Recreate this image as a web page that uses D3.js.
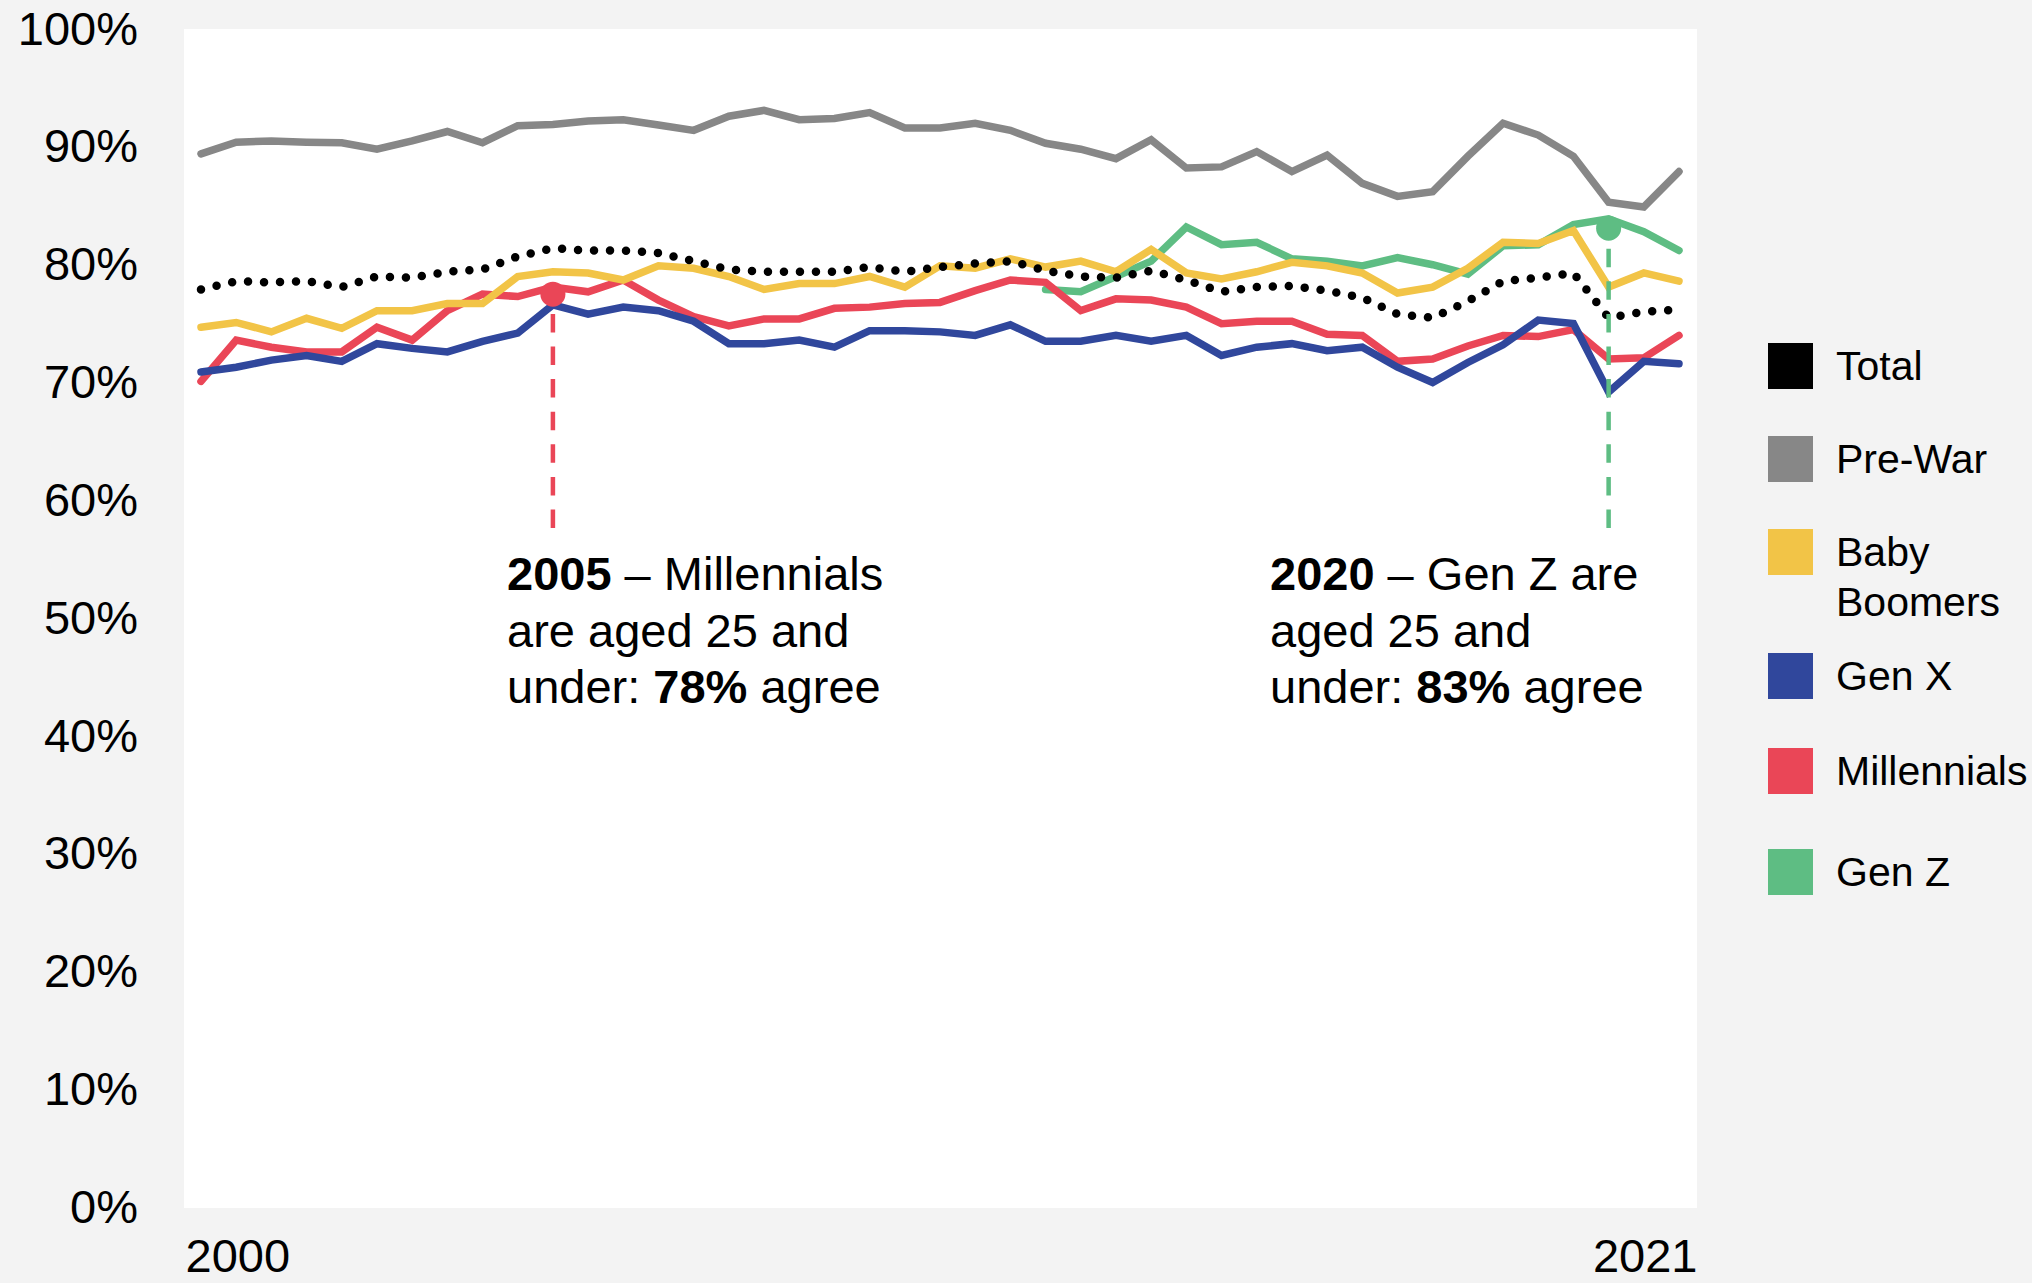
<!DOCTYPE html>
<html><head><meta charset="utf-8">
<script src="https://cdn.jsdelivr.net/npm/d3@7"></script>
<style>
html,body{margin:0;padding:0;background:#f3f3f3;}
svg{display:block;font-family:"Liberation Sans",Arial,Helvetica,sans-serif;}
</style></head><body>
<svg id="chart" width="2032" height="1283"></svg>
<script>
// ---- DATA ----
const periods = [2000,2000.5,2001,2001.5,2002,2002.5,2003,2003.5,2004,2004.5,2005,2005.5,2006,2006.5,2007,2007.5,2008,2008.5,2009,2009.5,2010,2010.5,2011,2011.5,2012,2012.5,2013,2013.5,2014,2014.5,2015,2015.5,2016,2016.5,2017,2017.5,2018,2018.5,2019,2019.5,2020,2020.5,2021];
const total = [77.9,78.6,78.5,78.6,78.1,79.0,78.9,79.4,79.6,80.7,81.4,81.2,81.2,81.0,80.3,79.6,79.4,79.4,79.4,79.8,79.4,79.8,80.1,80.3,79.5,79.0,78.9,79.5,78.7,77.7,78.1,78.2,77.8,77.2,75.8,75.5,76.9,78.6,78.9,79.3,75.5,76.0,76.2];
const preWar = [89.4,90.4,90.5,90.4,90.35,89.8,90.5,91.3,90.35,91.8,91.9,92.2,92.3,91.85,91.4,92.6,93.1,92.3,92.4,92.9,91.6,91.6,92.0,91.4,90.3,89.8,89.0,90.6,88.2,88.3,89.6,87.9,89.3,86.9,85.8,86.2,89.2,92.0,91.0,89.2,85.3,84.9,87.9];
const babyBoomers = [74.7,75.1,74.3,75.45,74.6,76.1,76.1,76.7,76.7,79.0,79.4,79.3,78.7,79.9,79.7,79.0,77.9,78.4,78.4,79.0,78.1,79.9,79.7,80.5,79.8,80.3,79.4,81.3,79.3,78.8,79.4,80.2,79.9,79.3,77.6,78.1,79.7,81.9,81.8,82.9,78.1,79.3,78.6];
const genX = [70.9,71.3,71.9,72.3,71.8,73.3,72.9,72.6,73.5,74.2,76.6,75.8,76.4,76.1,75.2,73.3,73.3,73.6,73.0,74.4,74.4,74.3,74.0,74.9,73.5,73.5,74.0,73.5,74.0,72.3,73.0,73.3,72.7,73.0,71.3,70.0,71.7,73.2,75.3,75.0,69.2,71.8,71.6];
const millennials = [70.1,73.6,73.0,72.6,72.6,74.7,73.6,76.1,77.5,77.3,78.1,77.7,78.7,77.0,75.6,74.8,75.4,75.4,76.3,76.4,76.7,76.8,77.8,78.7,78.5,76.1,77.1,77.0,76.4,75.0,75.2,75.2,74.1,74.0,71.8,72.0,73.1,74.0,73.9,74.5,72.0,72.1,74.0];
const genZ = [null,null,null,null,null,null,null,null,null,null,null,null,null,null,null,null,null,null,null,null,null,null,null,null,77.9,77.7,79.0,80.3,83.2,81.7,81.9,80.5,80.3,79.9,80.6,80.0,79.2,81.6,81.7,83.4,83.9,82.8,81.2];
const yTicks = [0,10,20,30,40,50,60,70,80,90,100];
const xTickLabels = [2000, 2021];
const legendLabels = [["Total"],["Pre-War"],["Baby","Boomers"],["Gen X"],["Millennials"],["Gen Z"]];
const highlightPoints = [{period:2005, value:77.5, series:"Millennials"},{period:2020, value:83.1, series:"Gen Z"}];

// ---- STYLE / LAYOUT ----
const colors = {"Total":"#000000","Pre-War":"#878787","Baby Boomers":"#f2c447","Gen X":"#30479c","Millennials":"#ea4657","Gen Z":"#5ebd83"};
const plot = {left:184, right:1697, top:29, bottom:1208};

const svg = d3.select("#chart");
svg.append("rect").attr("width",2032).attr("height",1283).attr("fill","#f3f3f3");
svg.append("rect").attr("x",plot.left).attr("y",plot.top)
  .attr("width",plot.right-plot.left).attr("height",plot.bottom-plot.top).attr("fill","#ffffff");

const x = d3.scaleLinear().domain([2000,2021]).range([201,1679]);
const y = d3.scaleLinear().domain([0,100]).range([1207.5,29]);

// Y axis
const yAxis = svg.append("g").attr("transform",`translate(${plot.left},0)`)
  .call(d3.axisLeft(y).tickValues(yTicks).tickSize(0).tickPadding(46).tickFormat(d=>d+"%"));
yAxis.select(".domain").remove();
yAxis.selectAll("text").attr("font-size",47).attr("fill","#000").attr("font-family","'Liberation Sans',Arial,sans-serif");

// X axis
const xAxis = svg.append("g").attr("transform",`translate(0,${plot.bottom})`)
  .call(d3.axisBottom(x).tickValues(xTickLabels).tickSize(0).tickPadding(31).tickFormat(d3.format("d")));
xAxis.select(".domain").remove();
xAxis.selectAll("text").attr("font-size",47).attr("fill","#000").attr("font-family","'Liberation Sans',Arial,sans-serif")
  .attr("text-anchor",(d,i)=> i===0 ? "start" : "end")
  .attr("x",(d,i)=> i===0 ? plot.left - x(d) + 1 : plot.right - x(d));

// Lines
const seriesList = [
  {name:"Gen Z", values:genZ},
  {name:"Millennials", values:millennials},
  {name:"Gen X", values:genX},
  {name:"Baby Boomers", values:babyBoomers},
  {name:"Pre-War", values:preWar},
  {name:"Total", values:total}
];
const line = d3.line().defined(d=>d.v!=null).x(d=>x(d.p)).y(d=>y(d.v));
const lg = svg.append("g");
seriesList.forEach(s=>{
  const pts = periods.map((p,i)=>({p, v:s.values[i]}));
  const path = lg.append("path").datum(pts).attr("d",line).attr("fill","none")
    .attr("stroke",colors[s.name]);
  if (s.name==="Total") {
    path.attr("stroke-width",8.5).attr("stroke-dasharray","0 16").attr("stroke-linecap","round");
  } else {
    path.attr("stroke-width",7.5).attr("stroke-linecap","round").attr("stroke-linejoin","miter");
  }
});

// Highlight dashed lines + markers
const dashBottom = 528;
highlightPoints.forEach(h=>{
  svg.append("line").attr("x1",x(h.period)).attr("x2",x(h.period))
    .attr("y1",dashBottom).attr("y2",y(h.value))
    .attr("stroke",colors[h.series]).attr("stroke-width",4.5).attr("stroke-dasharray","18.5 14.1");
  svg.append("circle").attr("cx",x(h.period)).attr("cy",y(h.value)).attr("r",12.5).attr("fill",colors[h.series]);
});

// Annotations
const annFont = 47;
const annotations = [
  {x:507, lines:[[{t:"2005",b:true},{t:" – Millennials"}],[{t:"are aged 25 and"}],[{t:"under: "},{t:"78%",b:true},{t:" agree"}]]},
  {x:1270, lines:[[{t:"2020",b:true},{t:" – Gen Z are"}],[{t:"aged 25 and"}],[{t:"under: "},{t:"83%",b:true},{t:" agree"}]]}
];
annotations.forEach(a=>{
  a.lines.forEach((ln,li)=>{
    const t = svg.append("text").attr("x",a.x).attr("y",590 + li*56.5)
      .attr("font-size",annFont).attr("fill","#000");
    ln.forEach(seg=>{
      t.append("tspan").text(seg.t).attr("font-weight",seg.b?"bold":"normal");
    });
  });
});

// Legend
const legendTops = [343, 436, 529, 653, 748, 849];
const legendNames = ["Total","Pre-War","Baby Boomers","Gen X","Millennials","Gen Z"];
legendLabels.forEach((lab,i)=>{
  const top = legendTops[i];
  svg.append("rect").attr("x",1768).attr("y",top).attr("width",45).attr("height",46)
    .attr("fill",colors[legendNames[i]]);
  lab.forEach((txt,j)=>{
    svg.append("text").attr("x",1836).attr("y",top+23+j*50).attr("dy","0.35em")
      .attr("font-size",41).attr("fill","#000").text(txt);
  });
});
</script>
</body></html>
